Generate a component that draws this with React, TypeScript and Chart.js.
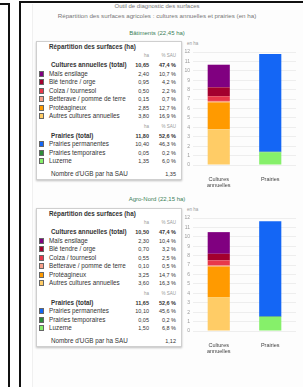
import React, { useEffect, useRef } from "react";
import { Chart, registerables } from "chart.js";
Chart.register(...registerables);

// ---- data ----
const categories: (string | string[])[] = [["Cultures", "annuelles"], "Prairies"];
const cropLabels = ["Maïs ensilage", "Blé tendre / orge", "Colza / tournesol", "Betterave / pomme de terre", "Protéagineux", "Autres cultures annuelles"];
const cropColors = ["#800080", "#a3002e", "#e8384a", "#f7a08a", "#ff9a00", "#ffcc66"];
const grassLabels = ["Prairies permanentes", "Prairies temporaires", "Luzerne"];
const grassColors = ["#1466f5", "#2e8b3a", "#86f06a"];
const farm1Crops = [2.4, 0.95, 0.5, 0.15, 2.85, 3.8];
const farm1Grass = [10.4, 0.05, 1.35];
const farm2Crops = [2.3, 0.7, 0.55, 0.1, 3.25, 3.6];
const farm2Grass = [10.1, 0.05, 1.5];
const farmNames = ["Bâtiments", "Agro-Nord"];
const ugbValues = [1.35, 1.12];
const yMax = 12;
const yStep = 1;

const FONT = "'Liberation Sans', Arial, sans-serif";
const fmt = (v: number, d = 2) => v.toFixed(d).replace(".", ",");
const sum = (a: number[]) => a.reduce((s, v) => s + v, 0);

function StackChart({ crops, grass, top }: { crops: number[]; grass: number[]; top: number }) {
  const ref = useRef<HTMLCanvasElement>(null);
  useEffect(() => {
    const datasets: any[] = [];
    for (let i = crops.length - 1; i >= 0; i--)
      datasets.push({ label: cropLabels[i], data: [crops[i], null], backgroundColor: cropColors[i], stack: "s" });
    for (let i = grass.length - 1; i >= 0; i--)
      datasets.push({ label: grassLabels[i], data: [null, grass[i]], backgroundColor: grassColors[i], stack: "s" });
    const chart = new Chart(ref.current as HTMLCanvasElement, {
      type: "bar",
      data: { labels: categories as any, datasets },
      options: {
        animation: false,
        responsive: false,
        layout: { padding: { top: 14, right: 5, left: 0, bottom: 0 } },
        datasets: { bar: { barPercentage: 0.43, categoryPercentage: 1 } } as any,
        plugins: { legend: { display: false }, tooltip: { enabled: false } },
        scales: {
          x: {
            stacked: true,
            grid: { display: false },
            border: { display: false },
            ticks: { font: { size: 5.5, family: FONT, lineHeight: 1.1 }, color: "#444", padding: 3, maxRotation: 0, autoSkip: false },
            afterFit: (s: any) => { s.height = 23; },
          },
          y: {
            stacked: true,
            min: 0,
            max: yMax,
            ticks: { stepSize: yStep, font: { size: 5, family: FONT }, color: "#999", padding: 3 },
            grid: { color: "#eeeeee", drawTicks: false },
            border: { display: false },
            afterFit: (s: any) => { s.width = 13; },
          },
        },
      },
    });
    return () => chart.destroy();
  }, []);
  return (
    <div style={{ position: "absolute", left: 180, top, width: 121, height: 150 }}>
      <canvas ref={ref} width={121} height={150} />
    </div>
  );
}

const rowY = [5, 14, 23, 31.5, 40, 48.5, 57, 65.5, 74, 85, 93.5, 102, 110.5, 119, 131.5];

function Row({ y, label, a, b, color, bold, small, indent }: any) {
  const base: React.CSSProperties = { position: "absolute", top: y - 4, height: 8, lineHeight: "8px", fontSize: small ? 4.5 : 6.3, whiteSpace: "nowrap", fontWeight: bold ? 700 : 400, color: small ? "#999" : "#333" };
  const num: React.CSSProperties = { ...base, fontSize: small ? 4.5 : 5.5 };
  return (
    <>
      {color && <div style={{ position: "absolute", left: 2, top: y - 3, width: 5, height: 6, background: color, border: "0.5px solid #666", boxSizing: "border-box" }} />}
      {label && <div style={{ ...base, left: indent ?? 12 }}>{label}</div>}
      {a !== undefined && <div style={{ ...num, left: 80, width: 32, textAlign: "right" }}>{a}</div>}
      {b !== undefined && <div style={{ ...num, left: 110, width: 29, textAlign: "right" }}>{b}</div>}
    </>
  );
}

function Card({ top, crops, grass, ugb }: { top: number; crops: number[]; grass: number[]; ugb: number }) {
  const total = sum(crops) + sum(grass);
  const pct = (v: number) => fmt((v / total) * 100, 1) + " %";
  return (
    <div style={{ position: "absolute", left: 36, top, width: 146, height: 139, background: "#fff", border: "1px solid #cfcfcf", boxShadow: "0 1px 2px rgba(0,0,0,0.25)", boxSizing: "border-box", fontFamily: FONT, overflow: "hidden" }}>
      <Row y={rowY[0]} label="Répartition des surfaces (ha)" bold indent={12} />
      <Row y={rowY[1]} a="ha" b="% SAU" small />
      <Row y={rowY[2]} label="Cultures annuelles (total)" a={fmt(sum(crops))} b={pct(sum(crops))} bold indent={14} />
      {crops.map((v, i) => (
        <Row key={"c" + i} y={rowY[3 + i]} label={cropLabels[i]} a={fmt(v)} b={pct(v)} color={cropColors[i]} />
      ))}
      <Row y={rowY[9]} a="ha" b="% SAU" small />
      <Row y={rowY[10]} label="Prairies (total)" a={fmt(sum(grass))} b={pct(sum(grass))} bold indent={14} />
      {grass.map((v, i) => (
        <Row key={"g" + i} y={rowY[11 + i]} label={grassLabels[i]} a={fmt(v)} b={pct(v)} color={grassColors[i]} />
      ))}
      <Row y={rowY[14]} label="Nombre d'UGB par ha SAU" b={fmt(ugb)} indent={14} />
    </div>
  );
}

export default function App() {
  const farms = [
    { crops: farm1Crops, grass: farm1Grass, cardTop: 41, chartTop: 38, subY: 33 },
    { crops: farm2Crops, grass: farm2Grass, cardTop: 208, chartTop: 204, subY: 199 },
  ];
  return (
    <div style={{ position: "absolute", left: 0, top: 0, width: 303, height: 387, background: "#fff", overflow: "hidden", fontFamily: FONT }}>
      {/* frames */}
      <div style={{ position: "absolute", left: -2, top: 3, width: 10, height: 400, borderTop: "2px solid #111", borderRight: "2px solid #111" }} />
      <div style={{ position: "absolute", left: 32, top: 4, width: 280, height: 400, background: "#fdfdfd", borderLeft: "1px solid #f0f0f0" }} />
      <div style={{ position: "absolute", left: 19, top: 1, width: 300, height: 400, borderTop: "2px solid #111", borderLeft: "2px solid #111" }} />
      <div style={{ position: "absolute", left: 40, top: 3, width: 234, textAlign: "center", fontSize: 6, color: "#777", lineHeight: "7px", whiteSpace: "nowrap" }}>Outil de diagnostic des surfaces</div>
      <div style={{ position: "absolute", left: 20, top: 12, width: 274, textAlign: "center", fontSize: 6.2, color: "#777", lineHeight: "7px", whiteSpace: "nowrap" }}>Répartition des surfaces agricoles : cultures annuelles et prairies (en ha)</div>
      {farms.map((f, k) => (
        <React.Fragment key={k}>
          <div style={{ position: "absolute", left: 100, top: f.subY - 4, width: 114, textAlign: "center", fontSize: 6, color: "#3b7f58", lineHeight: "8px", whiteSpace: "nowrap" }}>
            {farmNames[k]} ({fmt(sum(f.crops) + sum(f.grass))} ha)
          </div>
          <Card top={f.cardTop} crops={f.crops} grass={f.grass} ugb={ugbValues[k]} />
          <div style={{ position: "absolute", left: 187, top: f.chartTop + 3, fontSize: 4.5, color: "#999", lineHeight: "5px" }}>en ha</div>
          <StackChart crops={f.crops} grass={f.grass} top={f.chartTop} />
        </React.Fragment>
      ))}
    </div>
  );
}
